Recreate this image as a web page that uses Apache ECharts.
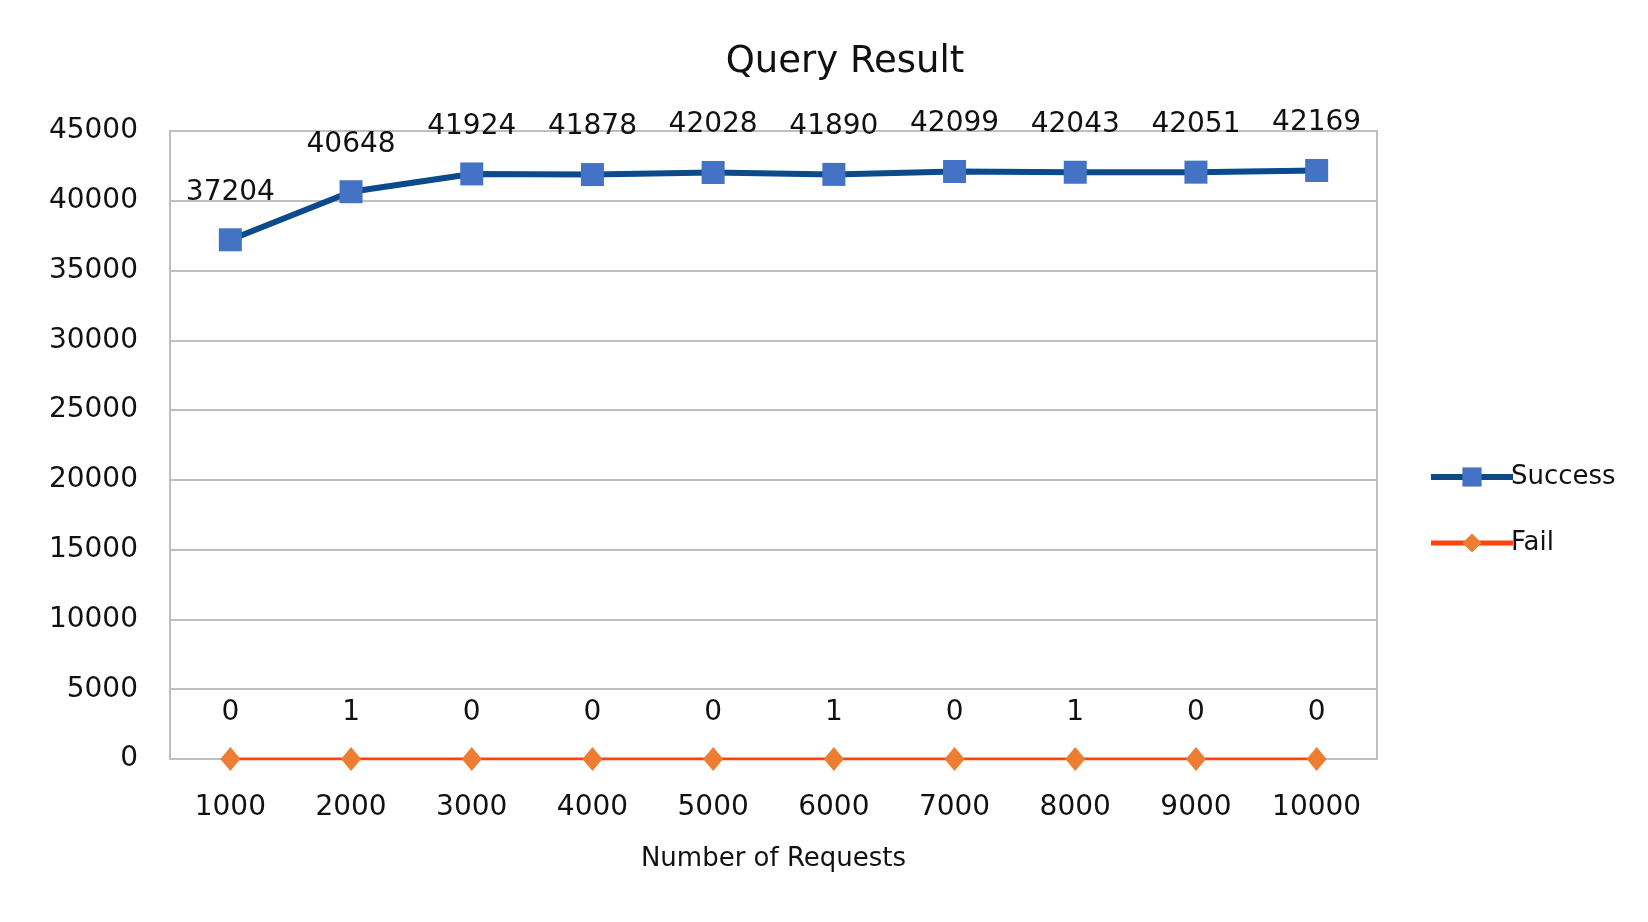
<!DOCTYPE html>
<html><head><meta charset="utf-8">
<script src="https://cdn.jsdelivr.net/npm/echarts@6/dist/echarts.min.js"></script>
<style>html,body{margin:0;padding:0;background:#fff}#c{width:1648px;height:922px}</style>
</head><body><div id="c"></div>
<script>
const categories = ['1000','2000','3000','4000','5000','6000','7000','8000','9000','10000'];
const successValues = [37204, 40648, 41924, 41878, 42028, 41890, 42099, 42043, 42051, 42169];
const failValues = [0, 1, 0, 0, 0, 1, 0, 1, 0, 0];
const yMin = 0, yMax = 45000, yStep = 5000;

const FONT = 'DejaVu Sans';
const chart = echarts.init(document.getElementById('c'));
chart.setOption({
  animation: false,
  backgroundColor: '#fff',
  textStyle: { fontFamily: FONT },
  title: {
    text: 'Query Result', left: 840, top: 39, textAlign: 'center',
    textStyle: { fontFamily: FONT, fontSize: 37, fontWeight: 'normal', color: '#111' }
  },
  grid: { left: 170, right: 271, top: 131, bottom: 163, show: true, borderColor: '#BFBFBF', borderWidth: 2, containLabel: false },
  legend: {
    orient: 'vertical', left: 1423, top: 459, itemWidth: 82, itemHeight: 24, itemGap: 40,
    textStyle: { fontFamily: FONT, fontSize: 26, color: '#111', padding: [0,0,0,-7] },
    data: [
      { name: 'Success', lineStyle: { width: 6, color: '#0B4A8B' } },
      { name: 'Fail', lineStyle: { width: 5, color: '#FF420E' } }
    ]
  },
  xAxis: {
    type: 'category', data: categories, boundaryGap: true,
    name: 'Number of Requests', nameLocation: 'middle', nameGap: 87,
    nameTextStyle: { fontFamily: FONT, fontSize: 26, color: '#111' },
    axisLine: { show: true, lineStyle: { color: '#BFBFBF', width: 2 } },
    axisTick: { show: false },
    axisLabel: { fontFamily: FONT, fontSize: 28, color: '#111', margin: 35 }
  },
  yAxis: {
    type: 'value', min: yMin, max: yMax, interval: yStep,
    axisLine: { show: false }, axisTick: { show: false },
    splitLine: { lineStyle: { color: '#BFBFBF', width: 2 } },
    axisLabel: { fontFamily: FONT, fontSize: 28, color: '#111', margin: 32, formatter: v => String(v) }
  },
  series: [
    {
      name: 'Success', type: 'line', data: successValues,
      lineStyle: { color: '#0B4A8B', width: 6 },
      itemStyle: { color: '#4472C4' },
      symbol: 'rect', symbolSize: 23,
      label: { show: true, position: 'top', distance: 22, fontFamily: FONT, fontSize: 28, color: '#111' },
      z: 3
    },
    {
      name: 'Fail', type: 'line', data: failValues,
      lineStyle: { color: '#FF420E', width: 3 },
      itemStyle: { color: '#ED7D31' },
      symbol: 'diamond', symbolSize: [20, 24],
      label: { show: true, position: 'top', distance: 20, fontFamily: FONT, fontSize: 28, color: '#111' },
      z: 4
    }
  ]
});
</script></body></html>
